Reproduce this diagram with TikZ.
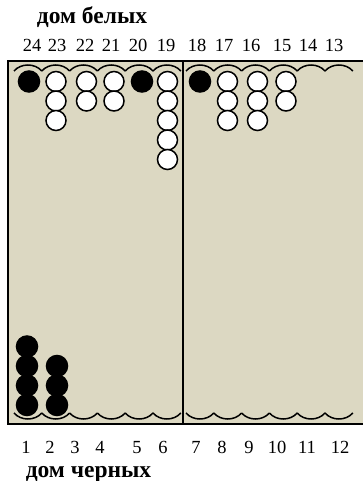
\documentclass[tikz,border=0pt]{standalone}
\usepackage{fontspec}
\setmainfont{Liberation Serif}
\begin{document}
\begin{tikzpicture}[x=1pt,y=-1pt,
  board/.style={fill=boardtan,draw=black,line width=2pt},
  bar/.style={draw=black,line width=1.2pt},
  scallop/.style={draw=black,line width=1.5pt},
  wck/.style={circle,draw=black,fill=white,line width=1.5pt,minimum size=20pt,inner sep=0pt},
  bck/.style={circle,draw=black,fill=black,line width=1.5pt,minimum size=21pt,inner sep=0pt},
  num/.style={anchor=base,inner sep=0pt,font=\fontsize{18.5}{20}\selectfont},
  head/.style={anchor=base,inner sep=0pt,font=\fontsize{23.5}{26}\selectfont\bfseries}]
\definecolor{boardtan}{HTML}{DCD8C2}
\useasboundingbox (0,0) rectangle (363,481);
\path[board] (8,61) rectangle (380,424);
\draw[bar] (183,61) -- (183,424);
% scallops
\foreach \s in {14,186}{
  \foreach \i in {0,...,5}{
    \pgfmathsetmacro\xa{\s+27.8*\i}
    \pgfmathsetmacro\xb{\s+27.8*(\i+1)}
    \pgfmathsetmacro\ca{\xa+7}
    \pgfmathsetmacro\cb{\xb-7}
    \draw[scallop] (\xa,71) .. controls (\ca,63) and (\cb,63) .. (\xb,71);
    \draw[scallop] (\xa,413) .. controls (\ca,421) and (\cb,421) .. (\xb,413);
  }
}
% headings
\node[head] (hw) at (92,23.5) {дом белых};
\node[head] (hb) at (88.5,477) {дом черных};
% top numbers
\foreach \n/\x in {24/32,23/57,22/85,21/111,20/138,19/166,18/197,17/224,16/251,15/282,14/308,13/334}{
  \node[num] (t\n) at (\x,51.5) {\n};
}
\foreach \n/\x in {1/26,2/50,3/75,4/100,5/137,6/163,7/196,8/222,9/249,10/277,11/307,12/340}{
  \node[num] (b\n) at (\x,453) {\n};
}
% top checkers: point/x/count/style
\foreach \p/\x/\c/\st in {24/29/1/bck,23/56/3/wck,22/86.5/2/wck,21/114/2/wck,20/142/1/bck,19/167.5/5/wck,18/200/1/bck,17/227.5/3/wck,16/257.5/3/wck,15/286/2/wck}{
  \foreach \k in {1,...,\c}{
    \node[\st] (c\p-\k) at (\x,{81.5+19.5*(\k-1)}) {};
  }
}
% bottom checkers
\foreach \p/\x/\c in {1/27/4,2/57/3}{
  \foreach \k in {1,...,\c}{
    \node[bck] (c\p-\k) at (\x,{405-19.5*(\k-1)}) {};
  }
}
\end{tikzpicture}
\end{document}
